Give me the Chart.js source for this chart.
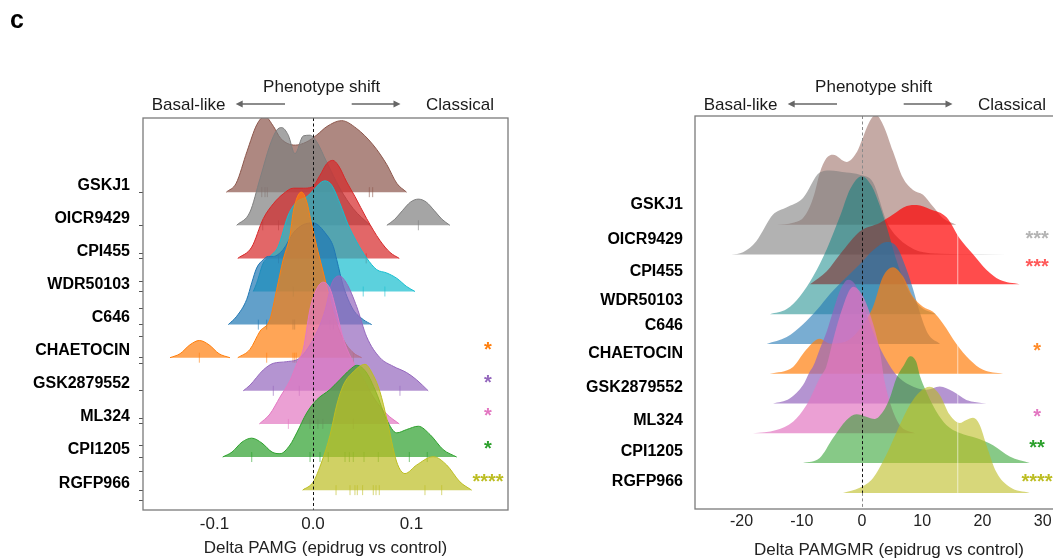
<!DOCTYPE html>
<html>
<head>
<meta charset="utf-8">
<script src="https://cdn.jsdelivr.net/npm/chart.js@4.4.1/dist/chart.umd.min.js"></script>
<style>
  html, body { margin: 0; padding: 0; background: #fff; overflow: hidden; width: 1053px; height: 559px; }
  canvas { position: absolute; top: 0; }
  #left { left: 0; }
  #right { left: 560px; }
</style>
</head>
<body>
<canvas id="left" width="540" height="559"></canvas>
<canvas id="right" width="560" height="559"></canvas>
<script>
// ridgeline panels: densities, heights in "ridge spacing" units
const drugs = ['GSKJ1', 'OICR9429', 'CPI455', 'WDR50103', 'C646', 'CHAETOCIN', 'GSK2879552', 'ML324', 'CPI1205', 'RGFP966'];
const palette = ['#8c564b', '#7f7f7f', '#d62728', '#17becf', '#1f77b4', '#ff7f0e', '#9467bd', '#e377c2', '#2ca02c', '#bcbd22'];

// ---- left: Delta PAMG ----
const pamgX = [
  [-0.088, -0.078, -0.067, -0.057, -0.049, -0.040, -0.033, -0.018, -0.007, 0.004, 0.014, 0.029, 0.044, 0.061, 0.075, 0.085, 0.095],
  [-0.0775, -0.064, -0.0538, -0.0437, -0.0369, -0.0318, -0.0251, -0.0183, -0.0098, -0.003, 0.0038, 0.0139, 0.0274, 0.0409, 0.0579, 0.066, 0.075, 0.083, 0.091, 0.099, 0.107, 0.115, 0.123, 0.131, 0.139],
  [-0.0764, -0.0622, -0.0505, -0.0403, -0.0302, -0.02, -0.0098, -0.0013, 0.0071, 0.0139, 0.02, 0.0257, 0.0342, 0.0426, 0.0545, 0.068, 0.0782, 0.0876],
  [-0.0606, -0.0572, -0.0505, -0.0437, -0.0355, -0.0251, -0.0165, -0.0064, 0.002, 0.0088, 0.0122, 0.019, 0.0274, 0.0358, 0.0444, 0.0545, 0.0647, 0.0748, 0.085, 0.0951, 0.1036],
  [-0.086, -0.0775, -0.0673, -0.0622, -0.0572, -0.0505, -0.0454, -0.0403, -0.0302, -0.02, -0.0098, 0.0003, 0.0139, 0.0206, 0.0241, 0.0308, 0.0409, 0.0511, 0.0596],
  [-0.1452, -0.135, -0.1249, -0.1154, -0.1056, -0.0954, -0.0843, -0.08, -0.0764, -0.064, -0.0538, -0.0437, -0.0369, -0.0302, -0.0234, -0.02, -0.0149, -0.0115, -0.0064, -0.0013, 0.0038, 0.0071, 0.0122, 0.0206, 0.0308, 0.0409, 0.0494],
  [-0.0708, -0.064, -0.0505, -0.0403, -0.0267, -0.0132, 0.002, 0.0122, 0.019, 0.0267, 0.0342, 0.0444, 0.0545, 0.068, 0.0815, 0.0951, 0.1053, 0.117],
  [-0.0545, -0.0437, -0.0335, -0.0234, -0.0165, -0.0098, -0.003, 0.0038, 0.0105, 0.0173, 0.0241, 0.0308, 0.0409, 0.0511, 0.0612, 0.0748, 0.0876],
  [-0.0917, -0.0822, -0.0721, -0.0622, -0.0518, -0.0416, -0.0335, -0.0234, -0.0165, -0.0064, 0.0038, 0.0173, 0.0274, 0.0376, 0.0444, 0.0538, 0.064, 0.0748, 0.085, 0.0951, 0.1069, 0.1188, 0.1323, 0.1459],
  [-0.0105, 0.0003, 0.0088, 0.0173, 0.0241, 0.0308, 0.0409, 0.0528, 0.0612, 0.068, 0.0748, 0.085, 0.0934, 0.1053, 0.1221, 0.1357, 0.1492, 0.1611]
];
const pamgDensity = [
  [0, 0.27, 1.23, 2.04, 2.29, 1.98, 1.63, 1.42, 1.51, 1.73, 1.98, 2.16, 1.93, 1.43, 0.83, 0.27, 0],
  [0, 0.40, 1.41, 2.42, 2.87, 2.95, 2.72, 2.16, 2.70, 2.72, 2.52, 1.91, 1.11, 0.50, 0, null, 0, 0.18, 0.45, 0.70, 0.79, 0.70, 0.45, 0.18, 0],
  [0, 0.34, 1.20, 1.65, 1.95, 2.12, 2.12, 2.15, 2.51, 2.86, 2.96, 2.81, 2.31, 1.87, 1.20, 0.54, 0.18, 0],
  [0, 0.25, 0.86, 1.06, 1.35, 2.31, 2.71, 2.86, 3.11, 3.31, 3.34, 3.21, 2.66, 2.01, 1.50, 1.01, 0.66, 0.56, 0.40, 0.15, 0],
  [0, 0.25, 0.76, 1.26, 1.71, 1.96, 2.06, 2.06, 2.27, 2.77, 3.02, 3.07, 2.71, 2.36, 1.96, 1.16, 0.45, 0.15, 0],
  [0, 0.12, 0.39, 0.52, 0.39, 0.12, 0, null, 0, 0.25, 0.80, 1.16, 2.06, 2.97, 3.69, 4.41, 4.92, 5.00, 4.71, 4.02, 3.36, 2.97, 2.37, 1.36, 0.55, 0.15, 0],
  [0, 0.17, 0.63, 0.83, 0.88, 1.0, 1.66, 2.42, 3.24, 3.47, 3.24, 2.54, 1.63, 1.0, 0.74, 0.55, 0.33, 0],
  [0, 0.30, 0.81, 1.31, 1.81, 2.27, 3.47, 4.08, 4.28, 4.08, 3.37, 2.57, 1.86, 1.36, 0.81, 0.30, 0],
  [0, 0.15, 0.45, 0.57, 0.42, 0.15, 0.10, 0.36, 0.73, 1.33, 1.73, 2.04, 2.34, 2.64, 2.77, 2.57, 1.96, 1.13, 0.73, 0.83, 0.93, 0.68, 0.22, 0],
  [0, 0.25, 0.85, 1.66, 2.57, 3.17, 3.57, 3.80, 3.47, 2.97, 2.17, 0.85, 0.50, 0.76, 1.01, 0.76, 0.25, 0]
];
const pamgRug = [
  [-0.052, -0.0487, -0.0464, 0.0572, 0.0606],
  [-0.051, -0.035, 0.107],
  [-0.035, -0.030, 0.054],
  [-0.02, 0.051, 0.073],
  [-0.0555, -0.047, -0.0203, -0.0186, 0.0173, 0.0206],
  [-0.1154, -0.047, -0.0203, -0.0186, -0.017, 0.041],
  [-0.0403, -0.0139, 0.0883],
  [-0.025, -0.003, 0.005, 0.010, 0.041],
  [-0.0622, -0.003, 0.0071, 0.0155, 0.0325, 0.0369, 0.0409, 0.0518, 0.0663, 0.0978, 0.116],
  [0.0234, 0.0376, 0.0426, 0.045, 0.0504, 0.0612, 0.064, 0.0673, 0.1137, 0.1307]
];
const pamgSig = ['', '', '', '', '', '*', '*', '*', '*', '****'];
const pamgTicks = [-0.1, 0, 0.1];
const pamgMinorTicks = [7.15, 6.29, 5.49, 4.63, 3.83, 2.17, 1.36, 0.55, -0.3];

// ---- right: Delta PAMGMR ----
const pamgmrX = [
  [-14.12, -11.46, -9.80, -8.64, -7.81, -7.03, -5.93, -4.82, -2.57, -0.83, 0, 1.28, 2.28, 3.49, 5.15, 6.81, 8.47, 10.13, 11.79, 13.46, 15.66],
  [-21.71, -19.77, -17.56, -14.78, -12.57, -9.80, -7.03, -5.37, -2.61, -0.38, 1.83, 4.10, 5.15, 6.31, 7.97, 9.63, 13.0, 19.6, 28.41],
  [-8.64, -5.86, -3.65, -0.33, 2.99, 5.20, 7.43, 9.09, 11.30, 14.04, 16.23, 18.44, 20.65, 22.87, 26.20],
  [-15.28, -12.51, -10.30, -8.09, -5.86, -3.65, -1.99, -0.05, 1.61, 2.99, 4.37, 5.65, 7.36, 9.58, 12.29],
  [-15.83, -12.51, -9.75, -7.52, -5.32, -2.54, -0.33, 1.88, 4.10, 5.76, 7.43, 8.52, 9.63, 10.96, 12.96],
  [-15.33, -11.46, -9.25, -7.03, -5.32, -2.82, -0.33, 1.83, 3.49, 5.15, 6.81, 8.47, 10.13, 11.79, 13.46, 15.66, 17.89, 20.10, 23.42],
  [-14.78, -12.01, -9.80, -8.69, -8.14, -6.98, -5.86, -4.77, -3.65, -2.28, -0.95, 0.71, 2.38, 4.04, 5.70, 7.92, 10.68, 12.91, 15.12, 17.33, 20.65],
  [-18.11, -14.24, -11.46, -9.25, -7.03, -5.93, -4.82, -3.70, -1.45, 0.17, 1.83, 2.94, 3.77, 4.60, 6.26, 8.80],
  [-9.80, -7.03, -4.82, -2.61, -0.95, 0.71, 2.11, 3.49, 4.60, 5.70, 6.81, 8.02, 9.02, 9.58, 10.68, 12.34, 14.00, 16.23, 18.99, 21.76, 24.53, 27.86],
  [-3.16, -0.38, 1.83, 4.04, 6.26, 7.92, 9.58, 11.25, 12.91, 14.57, 16.23, 17.33, 18.44, 19.55, 20.65, 22.31, 24.53, 27.86]
];
const pamgmrDensity = [
  [0, 0.07, 0.23, 0.62, 1.11, 1.73, 2.23, 2.35, 2.11, 2.45, 2.85, 3.47, 3.69, 3.36, 2.46, 1.57, 1.17, 1.01, 0.61, 0.22, 0],
  [0, 0.08, 0.45, 1.34, 1.58, 1.90, 2.75, 2.82, 2.75, 2.68, 2.42, 1.10, 0.75, 0.50, 0.25, 0.10, 0.03, 0.01, 0],
  [0, 0.44, 1.01, 1.78, 2.07, 2.35, 2.63, 2.66, 2.52, 2.25, 1.54, 1.01, 0.49, 0.15, 0],
  [0, 0.17, 0.60, 1.28, 2.18, 3.29, 4.19, 4.63, 4.30, 3.62, 2.75, 1.85, 0.94, 0.27, 0],
  [0, 0.23, 0.67, 1.14, 1.68, 2.25, 2.68, 3.15, 3.42, 3.26, 2.48, 1.81, 1.04, 0.34, 0],
  [0, 0.23, 0.81, 1.17, 1.01, 1.07, 1.51, 2.25, 3.26, 3.57, 3.26, 2.58, 2.25, 2.08, 1.68, 1.01, 0.47, 0.13, 0],
  [0, 0.17, 0.62, 1.07, 1.24, 1.85, 2.42, 3.12, 3.79, 4.15, 3.93, 3.02, 2.13, 1.46, 0.96, 0.62, 0.46, 0.57, 0.40, 0.12, 0],
  [0, 0.11, 0.39, 0.94, 1.85, 2.24, 3.12, 3.92, 4.92, 4.59, 3.69, 2.79, 1.73, 1.06, 0.28, 0],
  [0, 0.17, 0.84, 1.44, 1.64, 1.56, 1.48, 1.73, 2.18, 2.85, 3.24, 3.59, 3.39, 2.95, 2.40, 1.73, 1.28, 1.01, 0.84, 0.60, 0.22, 0],
  [0, 0.17, 0.50, 1.28, 2.28, 2.95, 3.39, 3.56, 3.29, 2.62, 2.35, 2.45, 2.52, 2.28, 1.61, 0.70, 0.20, 0]
];
const pamgmrSig = ['', '***', '***', '', '', '*', '', '*', '**', '****'];
const pamgmrTicks = [-20, -10, 0, 10, 20, 30];
const pamgmrColors = ['#8c564b', '#7f7f7f', '#ff0000', '#008080', '#1f77b4', '#ff7f0e', '#9467bd', '#e377c2', '#2ca02c', '#bcbd22'];
const pamgmrAlpha = [0.5, 0.6, 0.7, 0.5, 0.6, 0.7, 0.7, 0.7, 0.57, 0.6];
const pamgmrSigColors = ['#999', '#b4b4b4', '#ff5a5a', '#008080', '#1f77b4', '#ff8c2a', '#9467bd', '#e377c2', '#2ca02c', '#bcbd22'];

// layout helpers (axis units): label rows and star rows of the right panel
const pamgmrLabelPos = [9.66, 8.49, 7.42, 6.44, 5.60, 4.66, 3.52, 2.42, 1.38, 0.37];
const pamgmrSigPos = [0, 8.33, 7.39, 0, 0, 4.57, 0, 2.36, 1.29, 0.15];

const FONT = '"Liberation Sans", Arial, Helvetica, sans-serif';

function rgba(hex, a) {
  const n = parseInt(hex.slice(1), 16);
  return `rgba(${n >> 16},${(n >> 8) & 255},${n & 255},${a})`;
}

function ridgeSets(xs, hs, colors, alphas, lineW) {
  const n = xs.length;
  return xs.map((xr, i) => {
    const base = n - 1 - i;
    return {
      data: xr.map((x, j) => ({ x, y: hs[i][j] === null ? null : base + hs[i][j] })),
      borderColor: lineW ? colors[i] : 'rgba(0,0,0,0)',
      borderWidth: lineW,
      backgroundColor: rgba(colors[i], alphas[i]),
      fill: { value: base },
      pointRadius: 0,
      cubicInterpolationMode: 'monotone',
      order: n - 1 - i
    };
  });
}

function rugSets(rugs, colors) {
  const n = rugs.length;
  return rugs.map((r, i) => ({
    data: r.map(x => ({ x, y: n - 1 - i })),
    showLine: false,
    pointStyle: 'line',
    rotation: 90,
    pointRadius: 5,
    pointBorderWidth: 1,
    pointBorderColor: rgba(colors[i], 0.6),
    order: n - 1 - i - 0.5
  }));
}

function arrow(ctx, x1, x2, y) {
  const d = Math.sign(x2 - x1);
  ctx.beginPath(); ctx.moveTo(x1, y); ctx.lineTo(x2 - d * 4, y); ctx.stroke();
  ctx.beginPath(); ctx.moveTo(x2, y); ctx.lineTo(x2 - d * 7, y - 3.5); ctx.lineTo(x2 - d * 7, y + 3.5); ctx.closePath(); ctx.fill();
}

function deco(opt) {
  return {
    id: 'deco',
    afterDatasetsDraw(chart) {
      const { ctx, chartArea: a, scales: { x, y } } = chart;
      ctx.save();
      ctx.beginPath(); ctx.rect(a.left, a.top, a.right - a.left, a.bottom - a.top); ctx.clip();
      if (opt.refX !== undefined) {
        const xr = x.getPixelForValue(opt.refX);
        ctx.strokeStyle = 'rgba(255,255,255,0.6)'; ctx.lineWidth = 1;
        ctx.beginPath(); ctx.moveTo(xr, y.getPixelForValue(opt.refY[0])); ctx.lineTo(xr, y.getPixelForValue(opt.refY[1])); ctx.stroke();
      }
      const x0 = Math.round(x.getPixelForValue(0)) + 0.5;
      ctx.setLineDash([3, 2.5]); ctx.lineWidth = 1;
      const seg = (c, y1, y2) => { ctx.strokeStyle = c; ctx.beginPath(); ctx.moveTo(x0, y1); ctx.lineTo(x0, y2); ctx.stroke(); };
      if (opt.darkSpan) {
        const yt = y.getPixelForValue(opt.darkSpan[1]), yb = y.getPixelForValue(opt.darkSpan[0]);
        seg('#8a8a8a', a.top, yt); seg('#111', yt, yb); seg('#8a8a8a', yb, a.bottom);
      } else {
        seg('#111', a.top, a.bottom);
      }
      ctx.restore();

      ctx.save();
      ctx.font = 'bold 20px ' + FONT; ctx.textAlign = 'center'; ctx.textBaseline = 'alphabetic';
      opt.sig.forEach((s, i) => {
        if (!s) return;
        ctx.fillStyle = opt.sigColors[i];
        ctx.fillText(s, x.getPixelForValue(opt.sigX), y.getPixelForValue(opt.sigY[i]));
      });
      ctx.restore();
    },
    afterDraw(chart) {
      const { ctx, chartArea: a } = chart;
      ctx.save();
      ctx.strokeStyle = '#7a7a7a'; ctx.lineWidth = 1.3;
      ctx.strokeRect(a.left, a.top, a.right - a.left, a.bottom - a.top);
      // header
      ctx.fillStyle = '#1a1a1a'; ctx.font = '17px ' + FONT; ctx.textBaseline = 'alphabetic';
      ctx.textAlign = 'center'; ctx.fillText('Phenotype shift', a.left + 178.7, 92);
      ctx.textAlign = 'left';
      ctx.fillText('Basal-like', a.left + 8.7, 109.5);
      ctx.fillText('Classical', a.left + 283, 109.5);
      ctx.strokeStyle = '#666'; ctx.fillStyle = '#666'; ctx.lineWidth = 1.5;
      arrow(ctx, a.left + 142, a.left + 92.7, 104);
      arrow(ctx, a.left + 208.7, a.left + 257.5, 104);
      if (opt.tag) {
        ctx.fillStyle = '#000'; ctx.font = 'bold 25px ' + FONT;
        ctx.fillText(opt.tag, 10, 28);
      }
      ctx.restore();
    }
  };
}

const n = drugs.length;
const leftAlpha = palette.map(() => 0.7);
const leftSets = ridgeSets(pamgX, pamgDensity, palette, leftAlpha, 1).concat(rugSets(pamgRug, palette));

new Chart(document.getElementById('left'), {
  type: 'line',
  data: { datasets: leftSets },
  options: {
    responsive: false, animation: false, events: [],
    layout: { padding: { top: 118, right: 32, left: 0, bottom: 0 } },
    plugins: { legend: { display: false }, tooltip: { enabled: false } },
    scales: {
      x: {
        type: 'linear', min: -0.1726, max: 0.198,
        afterFit: s => { s.height = 49; },
        afterBuildTicks: s => { s.ticks = pamgTicks.map(v => ({ value: v })); },
        grid: { display: false, drawTicks: false }, border: { display: false },
        ticks: { padding: 4, color: '#222', font: { size: 17, family: FONT }, maxRotation: 0, autoSkip: false, callback: v => v.toFixed(1) },
        title: { display: true, text: 'Delta PAMG (epidrug vs control)', color: '#222', font: { size: 17, family: FONT, lineHeight: 1 }, padding: { top: 0, bottom: 2 } }
      },
      y: {
        type: 'linear', min: -0.6, max: 11.24,
        afterFit: s => { s.width = 143; },
        afterBuildTicks: s => {
          s.ticks = drugs.map((d, i) => ({ value: n - 1 - i })).concat(pamgMinorTicks.map(v => ({ value: v })));
        },
        grid: { drawOnChartArea: false, drawTicks: true, tickLength: 4, color: '#555' },
        border: { display: false },
        ticks: {
          autoSkip: false, padding: 9, labelOffset: -7, color: '#000',
          font: { size: 16, weight: 'bold', family: FONT },
          callback: v => (Number.isInteger(v) && v >= 0 && v < n) ? drugs[n - 1 - v] : ''
        }
      }
    }
  },
  plugins: [deco({
    sig: pamgSig, sigColors: palette, sigX: 0.1777,
    sigY: drugs.map((d, i) => n - 1 - i + 0.05),
    tag: 'c'
  })]
});

const rightSets = ridgeSets(pamgmrX, pamgmrDensity, pamgmrColors, pamgmrAlpha, 0);

new Chart(document.getElementById('right'), {
  type: 'line',
  data: { datasets: rightSets },
  options: {
    responsive: false, animation: false, events: [],
    layout: { padding: { top: 116, right: 37, left: 0, bottom: 0 } },
    plugins: { legend: { display: false }, tooltip: { enabled: false } },
    scales: {
      x: {
        type: 'linear', min: -27.74, max: 36.7,
        afterFit: s => { s.height = 50; },
        afterBuildTicks: s => { s.ticks = pamgmrTicks.map(v => ({ value: v })); },
        grid: { display: false, drawTicks: false }, border: { display: false },
        ticks: { padding: 3, color: '#222', font: { size: 16, family: FONT }, maxRotation: 0, autoSkip: false, callback: v => String(v) },
        title: { display: true, text: 'Delta PAMGMR (epidrug vs control)', color: '#222', font: { size: 17, family: FONT, lineHeight: 1 }, padding: { top: 0, bottom: 0 } }
      },
      y: {
        type: 'linear', min: -0.54, max: 12.65,
        afterFit: s => { s.width = 135; },
        afterBuildTicks: s => { s.ticks = pamgmrLabelPos.map(v => ({ value: v })); },
        grid: { display: false, drawTicks: false },
        border: { display: false },
        ticks: {
          autoSkip: false, padding: 12, color: '#000',
          font: { size: 16, weight: 'bold', family: FONT },
          callback: (v, i) => drugs[i]
        }
      }
    }
  },
  plugins: [deco({
    sig: pamgmrSig, sigColors: pamgmrSigColors, sigX: 29.07,
    sigY: pamgmrSigPos,
    darkSpan: [0, 10.6],
    refX: 15.9, refY: [0, 8.72]
  })]
});
</script>
</body>
</html>
